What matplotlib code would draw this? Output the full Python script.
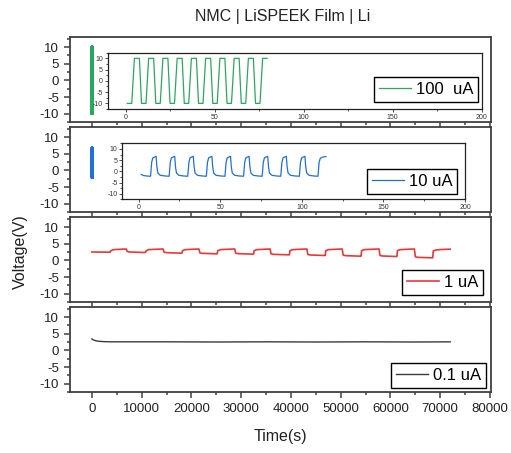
import numpy as np
import matplotlib
matplotlib.use("Agg")
import matplotlib.pyplot as plt
from matplotlib.ticker import MultipleLocator

plt.rcParams['font.family'] = ['Liberation Sans', 'DejaVu Sans']
plt.rcParams['axes.unicode_minus'] = False

# 100 uA cell: square wave, time in s
t_100 = [1, 3.5, 5, 7.8, 9, 11.5, 13, 15.8, 17, 19.5, 21, 23.8, 25, 27.5,
         29, 31.8, 33, 35.5, 37, 39.8, 41, 43.5, 45, 47.8, 49, 51.5, 53, 55.8,
         57, 59.5, 61, 63.8, 65, 67.5, 69, 71.8, 73, 75.5, 77, 79.5]
v_100 = [-10, -10, 10, 10, -10, -10, 10, 10, -10, -10, 10, 10, -10, -10,
         10, 10, -10, -10, 10, 10, -10, -10, 10, 10, -10, -10, 10, 10,
         -10, -10, 10, 10, -10, -10, 10, 10, -10, -10, 10, 10]

# 10 uA cell
t_10 = [1.6, 3.0, 5.0,
        7.3, 8.0, 8.7, 10.7, 11.2, 11.8, 13.3, 16.3,
        18.7, 19.4, 20.1, 22.1, 22.6, 23.2, 24.7, 27.7,
        30.1, 30.8, 31.5, 33.5, 34.0, 34.6, 36.1, 39.1,
        41.5, 42.2, 42.9, 44.9, 45.4, 46.0, 47.5, 50.5,
        52.9, 53.6, 54.3, 56.3, 56.8, 57.4, 58.9, 61.9,
        64.3, 65.0, 65.7, 67.7, 68.2, 68.8, 70.3, 73.3,
        75.7, 76.4, 77.1, 79.1, 79.6, 80.2, 81.7, 84.7,
        87.1, 87.8, 88.5, 90.5, 91.0, 91.6, 93.1, 96.1,
        98.5, 99.2, 99.9, 101.9, 102.4, 103.0, 104.5, 107.5,
        109.9, 110.6, 111.3, 112.6, 114.8]
v_10 = [-1.4, -1.9, -2.1,
        -2.2, 4.0, 6.0, 6.7, 2.0, -0.8, -1.8, -2.1,
        -2.2, 4.0, 6.0, 6.7, 2.0, -0.8, -1.8, -2.1,
        -2.2, 4.0, 6.0, 6.7, 2.0, -0.8, -1.8, -2.1,
        -2.2, 4.0, 6.0, 6.7, 2.0, -0.8, -1.8, -2.1,
        -2.2, 4.0, 6.0, 6.7, 2.0, -0.8, -1.8, -2.1,
        -2.2, 4.0, 6.0, 6.7, 2.0, -0.8, -1.8, -2.1,
        -2.2, 4.0, 6.0, 6.7, 2.0, -0.8, -1.8, -2.1,
        -2.2, 4.0, 6.0, 6.7, 2.0, -0.8, -1.8, -2.1,
        -2.2, 4.0, 6.0, 6.7, 2.0, -0.8, -1.8, -2.1,
        -2.2, 4.0, 5.8, 6.3, 6.6]

# 1 uA cell
t_1 = [0, 3600,
       3700, 3800, 4300, 5500, 6900, 7100, 7600, 10700,
       10800, 10900, 11400, 12600, 14300, 14500, 15000, 18000,
       18100, 18200, 18700, 19900, 21500, 21700, 22200, 25100,
       25200, 25300, 25800, 27000, 28700, 28900, 29400, 32400,
       32500, 32600, 33100, 34300, 35800, 36000, 36500, 39600,
       39700, 39800, 40300, 41500, 43200, 43400, 43900, 46800,
       46900, 47000, 47500, 48700, 50300, 50500, 51000, 54000,
       54100, 54200, 54700, 55900, 57700, 57900, 58400, 61200,
       61300, 61400, 61900, 63100, 64800, 65000, 65500, 68400,
       68500, 68600, 69100, 70300, 72000]
v_1 = [2.5, 2.45,
       2.5, 2.9, 3.2, 3.3, 3.4, 2.65, 2.5, 2.35,
       2.4, 2.9, 3.2, 3.3, 3.4, 2.45, 2.3, 2.15,
       2.2, 2.9, 3.2, 3.3, 3.4, 2.25, 2.1, 1.95,
       2.0, 2.9, 3.2, 3.3, 3.4, 2.15, 2.0, 1.85,
       1.9, 2.9, 3.2, 3.3, 3.4, 1.95, 1.8, 1.65,
       1.7, 2.9, 3.2, 3.3, 3.4, 1.75, 1.6, 1.45,
       1.5, 2.9, 3.2, 3.3, 3.4, 1.55, 1.4, 1.25,
       1.3, 2.9, 3.2, 3.3, 3.4, 1.45, 1.3, 1.15,
       1.2, 2.9, 3.2, 3.3, 3.4, 1.05, 0.9, 0.75,
       0.8, 2.8, 3.1, 3.25, 3.35]

# 0.1 uA cell
t_01 = [0, 200, 500, 1000, 1500, 2500, 4000, 8000, 15000, 25000, 35000,
        45000, 55000, 65000, 72000]
v_01 = [3.4, 3.2, 3.0, 2.8, 2.7, 2.6, 2.55, 2.55, 2.55, 2.5, 2.55,
        2.5, 2.55, 2.5, 2.55]

green = '#2aa860'
blue = '#1f6fdc'
red = '#f03535'
grey = '#3a3a3a'
spine_c = '#404040'

W, H = 511, 453
fig = plt.figure(figsize=(W / 100, H / 100), dpi=100)


def fx(px):
    return px / W


def fy(px):
    return 1 - px / H


left, right = 70, 491
panel_px = [(37, 122), (127, 212), (217, 302), (307, 392)]
axes = []
for i, (top, bot) in enumerate(panel_px):
    ax = fig.add_axes([fx(left), fy(bot), fx(right - left), (bot - top) / H],
                      sharex=axes[0] if axes else None)
    ax.set_xlim(-4400, 80200)
    ax.set_ylim(-12.5, 13)
    ax.xaxis.set_major_locator(MultipleLocator(10000))
    ax.xaxis.set_minor_locator(MultipleLocator(5000))
    ax.yaxis.set_major_locator(MultipleLocator(5))
    ax.yaxis.set_minor_locator(MultipleLocator(2.5))
    ax.tick_params(which='both', direction='out', colors=spine_c,
                   labelcolor='#222222', labelsize=9.5, width=1.1)
    ax.tick_params(which='major', length=4.5)
    ax.tick_params(which='minor', length=2.5)
    for s in ax.spines.values():
        s.set_color(spine_c)
        s.set_linewidth(1.3)
    if i < 3:
        ax.tick_params(axis='x', labelbottom=False)
    axes.append(ax)

ax1, ax2, ax3, ax4 = axes
ax1.plot(t_100, v_100, color=green, lw=2)
ax2.plot(t_10, v_10, color=blue, lw=2)
ax3.plot(t_1, v_1, color=red, lw=1.2, label='1 uA')
ax4.plot(t_01, v_01, color=grey, lw=1.0, label='0.1 uA')

leg_kw = dict(loc='lower right', fontsize=12, frameon=True, fancybox=False,
              framealpha=1, edgecolor='black', borderaxespad=0,
              handlelength=1.9, handletextpad=0.3, borderpad=0.3,
              bbox_transform=fig.transFigure)


def style_legend(leg):
    leg.get_frame().set_linewidth(1.0)


style_legend(ax3.legend(bbox_to_anchor=(fx(483.3), fy(295)), **leg_kw))
style_legend(ax4.legend(bbox_to_anchor=(fx(486), fy(387.7)), **leg_kw))

# zoomed-in insets for the first 200 s
inset_px = [(107.7, 481.7, 52.7, 109), (122.3, 465, 143.3, 199.3)]
inset_data = [(t_100, v_100, green, '100  uA', (478.3, 101.7)),
              (t_10, v_10, blue, '10 uA', (457.3, 194.3))]
for (l, r, tp, bt), (t, v, c, lab, anchor) in zip(inset_px, inset_data):
    ins = fig.add_axes([fx(l), fy(bt), fx(r - l), (bt - tp) / H])
    ins.plot(t, v, color=c, lw=0.9, label=lab)
    ins.set_xlim(-10, 200)
    ins.set_ylim(-12.5, 12.5)
    ins.xaxis.set_major_locator(MultipleLocator(50))
    ins.xaxis.set_minor_locator(MultipleLocator(25))
    ins.yaxis.set_major_locator(MultipleLocator(5))
    ins.yaxis.set_minor_locator(MultipleLocator(2.5))
    ins.tick_params(which='both', direction='out', labelsize=5, pad=1.5,
                    width=0.6, colors='#333333')
    ins.tick_params(which='major', length=2)
    ins.tick_params(which='minor', length=1.2)
    for s in ins.spines.values():
        s.set_linewidth(0.9)
        s.set_color('#222222')
    style_legend(ins.legend(bbox_to_anchor=(fx(anchor[0]), fy(anchor[1])),
                            **leg_kw))

fig.text(fx(283), fy(17), 'NMC | LiSPEEK Film | Li', ha='center', va='center',
         fontsize=11.5, color='#222222')
fig.text(fx(280), fy(437), 'Time(s)', ha='center', va='center',
         fontsize=11.5, color='#222222')
fig.text(fx(20), fy(252), 'Voltage(V)', ha='center', va='center',
         rotation=90, fontsize=11.5, color='#222222')

fig.savefig('out.png', dpi=100)
